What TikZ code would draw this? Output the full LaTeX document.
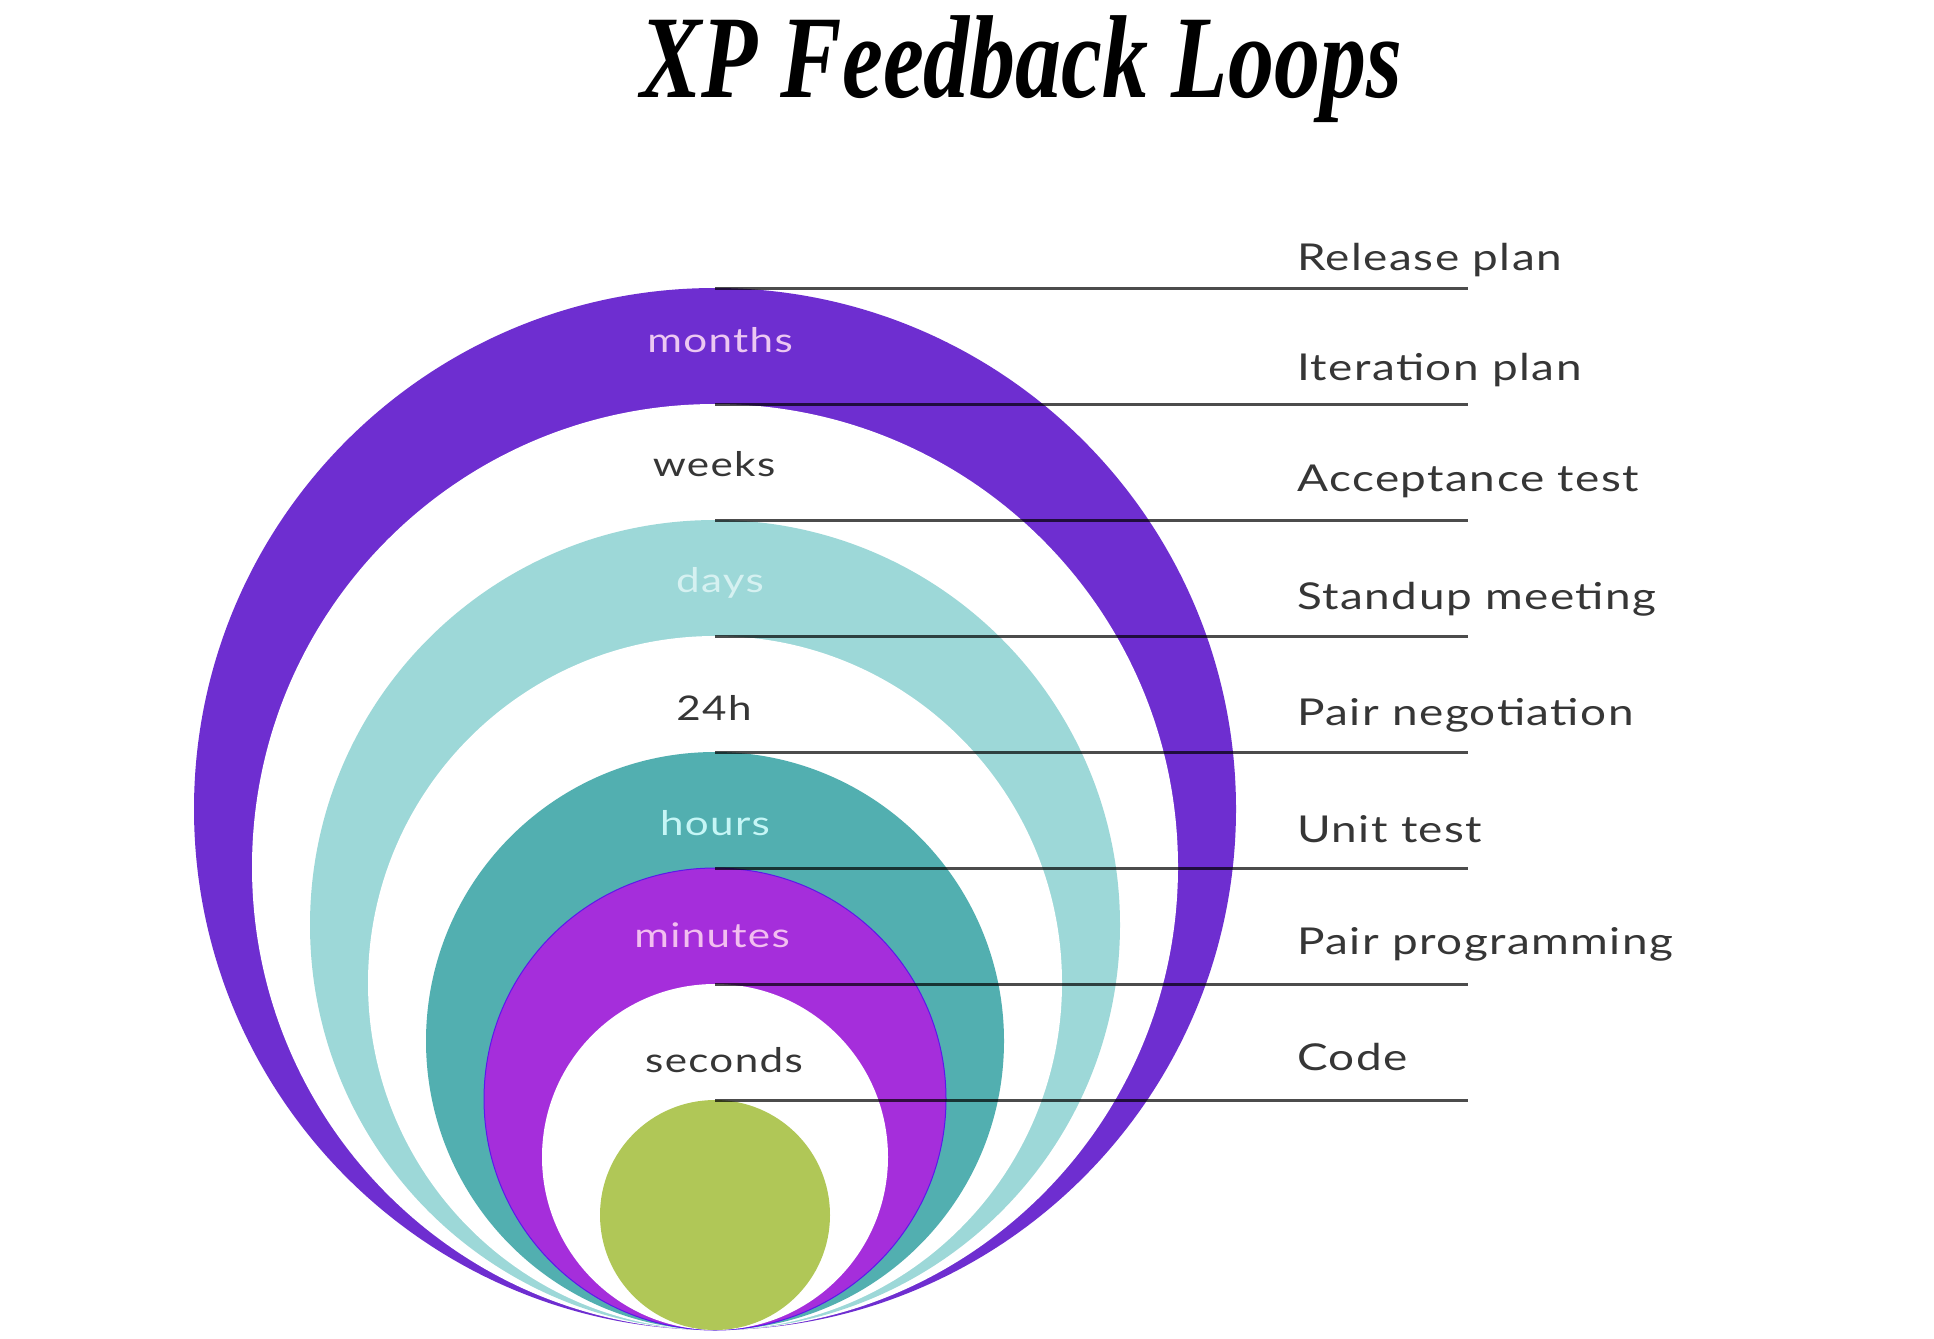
\documentclass[tikz,border=0pt]{standalone}
\usepackage{fontspec}
\setmainfont{Lato}
\newfontfamily\labelfont{Lato}[FakeStretch=1.24, LetterSpace=4]
\newfontfamily\titlefont{Liberation Serif}
\definecolor{monthsc}{HTML}{6E2ED0}
\definecolor{daysc}{HTML}{9DD8D8}
\definecolor{hoursc}{HTML}{52AFB0}
\definecolor{minutesc}{HTML}{A52EDB}
\definecolor{codec}{HTML}{B0C757}
\definecolor{darktext}{HTML}{363636}
\definecolor{lighttxtA}{HTML}{ECC8F2}
\definecolor{lighttxtB}{HTML}{D6F1F1}
\definecolor{lighttxtC}{HTML}{C6F6F6}
\definecolor{lighttxtD}{HTML}{F2BEF0}
\tikzset{
  loop/.style={circle, inner sep=0pt, outer sep=0pt, draw=none},
  tick/.style={draw=black, opacity=0.7, line width=3pt},
  practice/.style={anchor=base west, inner sep=0pt, text=darktext, font=\labelfont\fontsize{37}{40}\selectfont},
  period/.style={anchor=base, font=\labelfont\fontsize{34}{40}\selectfont},
}
\begin{document}
\begin{tikzpicture}[x=1pt, y=-1pt]
\useasboundingbox (0,0) rectangle (1934,1338);
\fill[white] (0,0) rectangle (1934,1338);

% title
\node[anchor=base, text=black] (title) at (1021,97)
  {\scalebox{0.78}[1]{\titlefont\bfseries\itshape\fontsize{118}{120}\selectfont XP Feedback Loops}};

% nested loops, all touching at the bottom point
\node[loop, fill=monthsc,  minimum size=1042pt] (c1) at (715, 809) {};
\node[loop, fill=white,    minimum size=926pt]  (c2) at (715, 867) {};
\node[loop, fill=daysc,    minimum size=810pt]  (c3) at (715, 925) {};
\node[loop, fill=white,    minimum size=694pt]  (c4) at (715, 983) {};
\node[loop, fill=hoursc,   minimum size=578pt]  (c5) at (715,1041) {};
\node[loop, fill=minutesc, draw=blue!45!minutesc, line width=1pt, minimum size=462pt] (c6) at (715,1099) {};
\node[loop, fill=white,    minimum size=346pt]  (c7) at (715,1157) {};
\node[loop, fill=codec,    minimum size=230pt]  (c8) at (715,1215) {};

% time scale of each loop
\node[period, text=lighttxtA] (t1) at (720, 352) {months};
\node[period, text=darktext]  (t2) at (714, 476) {weeks};
\node[period, text=lighttxtB] (t3) at (720, 592) {days};
\node[period, text=darktext]  (t4) at (714, 720) {24h};
\node[period, text=lighttxtC] (t5) at (715, 835) {hours};
\node[period, text=lighttxtD] (t6) at (712, 947) {minutes};
\node[period, text=darktext]  (t7) at (724,1072) {seconds};

% leader line ends
\coordinate (e1) at (1468, 288);
\coordinate (e2) at (1468, 404);
\coordinate (e3) at (1468, 520);
\coordinate (e4) at (1468, 636);
\coordinate (e5) at (1468, 752);
\coordinate (e6) at (1468, 868);
\coordinate (e7) at (1468, 984);
\coordinate (e8) at (1468,1100);

% practices
\node[practice] (p1) at (1297, 270) {Release plan};
\node[practice] (p2) at (1297, 380) {Iteration plan};
\node[practice] (p3) at (1297, 491) {Acceptance test};
\node[practice] (p4) at (1297, 609) {Standup meeting};
\node[practice] (p5) at (1297, 725) {Pair negotiation};
\node[practice] (p6) at (1297, 842) {Unit test};
\node[practice] (p7) at (1297, 954) {Pair programming};
\node[practice] (p8) at (1297,1070) {Code};

% leader lines from the top of each loop
\foreach \i in {1,...,8} \draw[tick] (c\i.north) -- (e\i);
\end{tikzpicture}
\end{document}
